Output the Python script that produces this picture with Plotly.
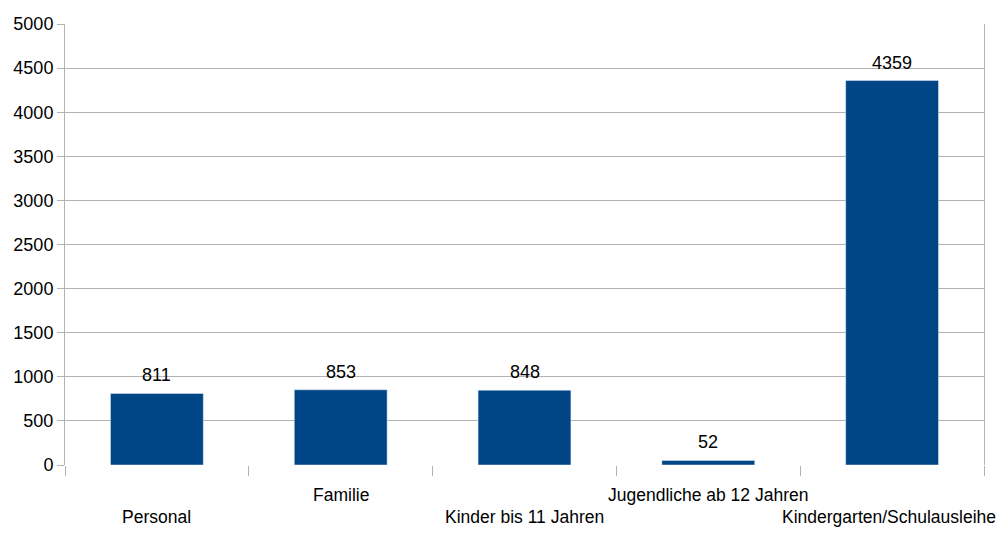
import plotly.graph_objects as go

categories = ["Personal", "Familie", "Kinder bis 11 Jahren", "Jugendliche ab 12 Jahren", "Kindergarten/Schulausleihe"]
values = [811, 853, 848, 52, 4359]
y_ticks = list(range(0, 5001, 500))

FONT = "Liberation Sans, Arial, sans-serif"
FS = 18
GRID = "#b3b3b3"
BAR = "#004586"

x_pos = list(range(len(categories)))

fig = go.Figure()
fig.add_trace(go.Bar(x=x_pos, y=values, marker_color=BAR, width=0.505,
                     hoverinfo="skip"))

for i, (c, v) in enumerate(zip(categories, values)):
    fig.add_annotation(x=i, y=v, text=str(v), showarrow=False, yanchor="bottom",
                       yshift=6, font=dict(family=FONT, size=FS, color="#000000"))
    fig.add_annotation(x=i, y=0, text=c, showarrow=False, yanchor="middle",
                       yshift=-30 if i % 2 == 1 else -52,
                       xshift=-3 if i == len(categories) - 1 else 0,
                       font=dict(family=FONT, size=17.5, color="#000000"))

# page body adds an 8px offset; figure is sized to fit the window from there
fig.update_layout(
    width=989, height=525,
    margin=dict(l=57, r=13, t=16, b=68),
    paper_bgcolor="white", plot_bgcolor="white",
    showlegend=False,
    font=dict(family=FONT, size=FS, color="#000000"),
    xaxis=dict(range=[-0.5, 4.5], tickvals=[i - 0.5 for i in range(len(categories) + 1)],
               ticktext=[""] * (len(categories) + 1), ticks="outside", ticklen=10,
               tickcolor=GRID, showgrid=False, zeroline=False, showline=False,
               automargin=False),
    yaxis=dict(range=[0, 5000], tickvals=y_ticks, ticks="outside", ticklen=7,
               tickcolor=GRID, gridcolor=GRID, gridwidth=1, zeroline=False,
               showline=True, linecolor=GRID, mirror=True, automargin=False,
               tickfont=dict(family=FONT, size=FS, color="#000000")),
)

fig.write_html("out.html")
